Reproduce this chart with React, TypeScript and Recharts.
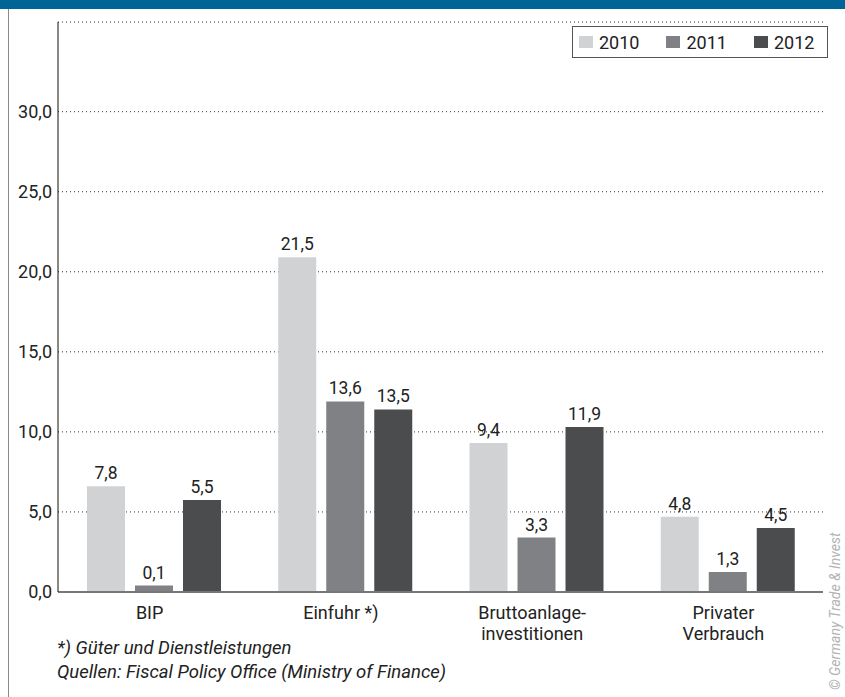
import React from "react";
import { Bar, BarChart, CartesianGrid, LabelList, Legend, XAxis, YAxis } from "recharts";

const categories = ["BIP", "Einfuhr *)", "Bruttoanlage-|investitionen", "Privater|Verbrauch"];
const years = ["2010", "2011", "2012"];

// bar heights as drawn in the picture
const bars2010 = [6.6, 20.9, 9.3, 4.7];
const bars2011 = [0.4, 11.9, 3.4, 1.25];
const bars2012 = [5.75, 11.4, 10.3, 4.0];

// values printed above the bars
const printed2010 = [7.8, 21.5, 9.4, 4.8];
const printed2011 = [0.1, 13.6, 3.3, 1.3];
const printed2012 = [5.5, 13.5, 11.9, 4.5];

const yTicks = [0, 5, 10, 15, 20, 25, 30];

const COLORS = ["#d1d2d4", "#808184", "#4b4c4e"];
const FONT = "Roboto, 'Noto Sans', sans-serif";

const data = categories.map((name, i) => ({
  name,
  v2010: bars2010[i],
  v2011: bars2011[i],
  v2012: bars2012[i],
  p2010: printed2010[i],
  p2011: printed2011[i],
  p2012: printed2012[i],
}));

const comma = (v: number) => v.toFixed(1).replace(".", ",");

function CategoryTick({ x, y, payload }: any) {
  const lines = String(payload.value).split("|");
  return (
    <text x={x - 4} y={y} textAnchor="middle" fill="#222" fontSize={18} fontFamily={FONT}>
      {lines.map((line, i) => (
        <tspan key={line} x={x - 4} dy={i === 0 ? 25 : 21}>
          {line}
        </tspan>
      ))}
    </text>
  );
}

function LegendBox() {
  return (
    <div
      style={{
        display: "flex",
        alignItems: "center",
        border: "1px solid #555",
        height: 32,
        boxSizing: "border-box",
        paddingLeft: 6,
        fontFamily: FONT,
        fontSize: 18,
        color: "#222",
      }}
    >
      {years.map((year, i) => (
        <span key={year} style={{ display: "flex", alignItems: "center", marginRight: 27 }}>
          <span style={{ width: 14, height: 12, background: COLORS[i], marginRight: 6 }} />
          {year}
        </span>
      ))}
    </div>
  );
}

export default function App() {
  return (
    <div style={{ position: "absolute", left: 0, top: 0, width: 845, height: 697, background: "#fff" }}>
      <div style={{ position: "absolute", left: 0, top: 0, width: 845, height: 9, background: "#006496" }} />
      <div style={{ position: "absolute", left: 8, top: 9, width: 1, height: 688, background: "#8a8a8a" }} />

      <BarChart
        width={845}
        height={697}
        data={data}
        margin={{ top: 22, right: 22, left: 8, bottom: 45 }}
        barGap={10}
        barCategoryGap={28}
      >
        <CartesianGrid vertical={false} stroke="#333" strokeDasharray="1 3" />
        <XAxis
          dataKey="name"
          axisLine={{ stroke: "#777", strokeWidth: 2 }}
          tickLine={false}
          tickSize={0}
          height={60}
          interval={0}
          tick={<CategoryTick />}
        />
        <YAxis
          width={50}
          domain={[0, 35.6]}
          ticks={yTicks}
          axisLine={{ stroke: "#111", strokeWidth: 1 }}
          tickLine={false}
          tickSize={0}
          tickMargin={6}
          tickFormatter={comma}
          tick={{ fill: "#222", fontSize: 18, fontFamily: FONT }}
        />
        <Legend
          layout="horizontal"
          verticalAlign="middle"
          align="center"
          content={<LegendBox />}
          wrapperStyle={{ top: 26, left: 572, width: 256, height: 32 }}
        />
        {years.map((year, i) => (
          <Bar key={year} dataKey={`v${year}`} name={year} fill={COLORS[i]} barSize={38} isAnimationActive={false}>
            <LabelList
              dataKey={`p${year}`}
              position="top"
              offset={7}
              formatter={comma}
              style={{ fill: "#222", fontSize: 17.5, fontFamily: FONT }}
            />
          </Bar>
        ))}
      </BarChart>

      <div
        style={{
          position: "absolute",
          left: 57,
          top: 636,
          fontFamily: FONT,
          fontStyle: "italic",
          fontSize: 18.5,
          lineHeight: "24px",
          color: "#222",
        }}
      >
        <div>*) Güter und Dienstleistungen</div>
        <div>Quellen: Fiscal Policy Office (Ministry of Finance)</div>
      </div>

      <div
        style={{
          position: "absolute",
          left: 828,
          top: 690,
          transform: "rotate(-90deg)",
          transformOrigin: "0 0",
          whiteSpace: "nowrap",
          fontFamily: FONT,
          fontStyle: "italic",
          fontSize: 14,
          color: "#b3b3b3",
          lineHeight: "15px",
        }}
      >
        © Germany Trade &amp; Invest
      </div>
    </div>
  );
}
